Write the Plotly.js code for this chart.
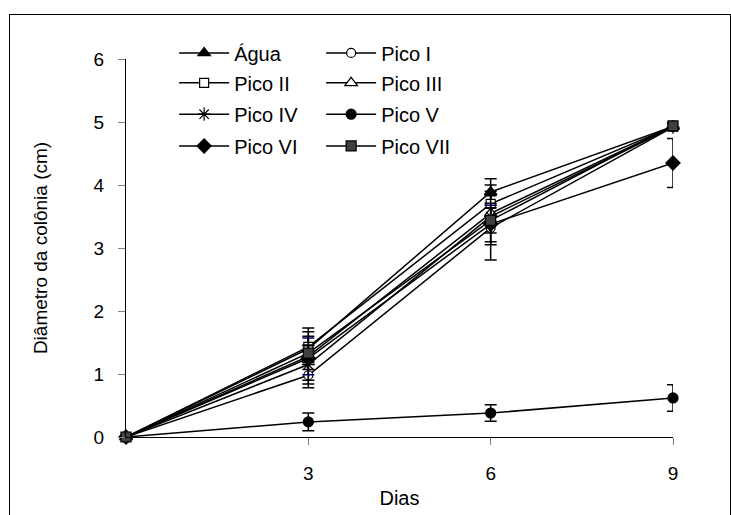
<!DOCTYPE html>
<html>
<head>
<meta charset="utf-8">
<script src="https://cdn.plot.ly/plotly-3.0.1.min.js"></script>
<style>
  html, body { margin: 0; padding: 0; background: #fff; }
  #wrap { position: relative; width: 731px; height: 515px; overflow: hidden; }
  #chart { position: absolute; left: 0; top: 0; width: 731px; height: 515px; }
  #frame { position: absolute; left: 9px; top: 14px; width: 720px; height: 520px;
           border: 1px solid #000; pointer-events: none; }
</style>
</head>
<body>
<div id="wrap">
  <div id="chart"></div>
  <div id="frame"></div>
</div>
<script>
// Dias de incubação
const dias = [0, 3, 6, 9];

// Diâmetro médio da colônia (cm) por tratamento
const agua    = [0, 1.40, 3.89, 4.93];
const picoI   = [0, 0.98, 3.32, 4.92];
const picoII  = [0, 1.43, 3.70, 4.93];
const picoIII = [0, 1.28, 3.55, 4.93];
const picoIV  = [0, 1.15, 3.50, 4.92];
const picoV   = [0, 0.24, 0.38, 0.62];
const picoVI  = [0, 1.25, 3.38, 4.35];
const picoVII = [0, 1.33, 3.44, 4.94];

// Desvio padrão (sem barra no dia 0)
const erroAgua    = [null, 0.33, 0.21, 0.05];
const erroPicoI   = [null, 0.20, 0.51, 0.05];
const erroPicoII  = [null, 0.24, 0.30, 0.05];
const erroPicoIII = [null, 0.29, 0.13, 0.05];
const erroPicoIV  = [null, 0.31, 0.40, 0.05];
const erroPicoV   = [null, 0.14, 0.13, 0.21];
const erroPicoVI  = [null, 0.35, 0.33, 0.39];
const erroPicoVII = [null, 0.12, 0.20, 0.05];

const nomes = ['Água', 'Pico I', 'Pico II', 'Pico III', 'Pico IV', 'Pico V', 'Pico VI', 'Pico VII'];

const FONT = 'Liberation Sans, Arial, sans-serif';

function serie(nome, y, erro, simbolo, preenchimento, tamanho, legenda, corErro) {
  return {
    type: 'scatter', mode: 'lines+markers', name: nome,
    x: dias, y: y, cliponaxis: false, legend: legenda,
    line: { color: '#000', width: 1.5 },
    marker: { symbol: simbolo, size: tamanho, color: preenchimento,
              line: { color: '#000', width: 1.2 } },
    error_y: { type: 'data', array: erro, visible: true, color: corErro || '#000',
               thickness: 1.5, width: 6 }
  };
}

const traces = [
  serie(nomes[0], agua,    erroAgua,    'triangle-up',   '#000', 11, 'legend'),
  serie(nomes[1], picoI,   erroPicoI,   'circle',        '#fff', 9,  'legend'),
  serie(nomes[2], picoII,  erroPicoII,  'square',        '#fff', 9,  'legend2'),
  serie(nomes[3], picoIII, erroPicoIII, 'triangle-up',   '#fff', 11, 'legend2', '#000080'),
  serie(nomes[4], picoIV,  erroPicoIV,  'asterisk-open', '#000', 11, 'legend3'),
  serie(nomes[5], picoV,   erroPicoV,   'circle',        '#000', 10, 'legend3'),
  serie(nomes[6], picoVI,  erroPicoVI,  'diamond',       '#000', 11, 'legend4'),
  serie(nomes[7], picoVII, erroPicoVII, 'square',        '#404040', 10, 'legend4')
];

function linhaLegenda(y) {
  return {
    x: 0.088, y: y, xanchor: 'left', yanchor: 'middle',
    orientation: 'h', entrywidth: 82, entrywidthmode: 'pixels',
    itemwidth: 50, traceorder: 'normal', bgcolor: 'rgba(0,0,0,0)',
    font: { family: FONT, size: 20, color: '#000' }
  };
}

const layout = {
  width: 731, height: 515,
  margin: { l: 126, r: 58, t: 59, b: 78 },
  paper_bgcolor: 'rgba(0,0,0,0)', plot_bgcolor: 'rgba(0,0,0,0)',
  font: { family: FONT, size: 18, color: '#000' },
  showlegend: true,
  legend:  linhaLegenda(1.016),
  legend2: linhaLegenda(0.937),
  legend3: linhaLegenda(0.854),
  legend4: linhaLegenda(0.770),
  xaxis: {
    range: [0, 9], tickvals: [3, 6, 9], ticks: 'outside', ticklen: 7,
    tickcolor: '#808080', tickwidth: 1, showline: true, linecolor: '#000', linewidth: 1,
    showgrid: false, zeroline: false, ticklabelstandoff: 12,
    tickfont: { family: FONT, size: 19 },
    title: { text: 'Dias', standoff: 8, font: { family: FONT, size: 20 } }
  },
  yaxis: {
    range: [0, 6], dtick: 1, ticks: 'outside', ticklen: 7,
    tickcolor: '#808080', tickwidth: 1, showline: true, linecolor: '#000', linewidth: 1,
    showgrid: false, zeroline: false, ticklabelstandoff: 10,
    tickfont: { family: FONT, size: 19 },
    title: { text: 'Diâmetro da colônia (cm)', standoff: 40, font: { family: FONT, size: 19 } }
  }
};

Plotly.newPlot('chart', traces, layout, { staticPlot: true, displayModeBar: false });
</script>
</body>
</html>
